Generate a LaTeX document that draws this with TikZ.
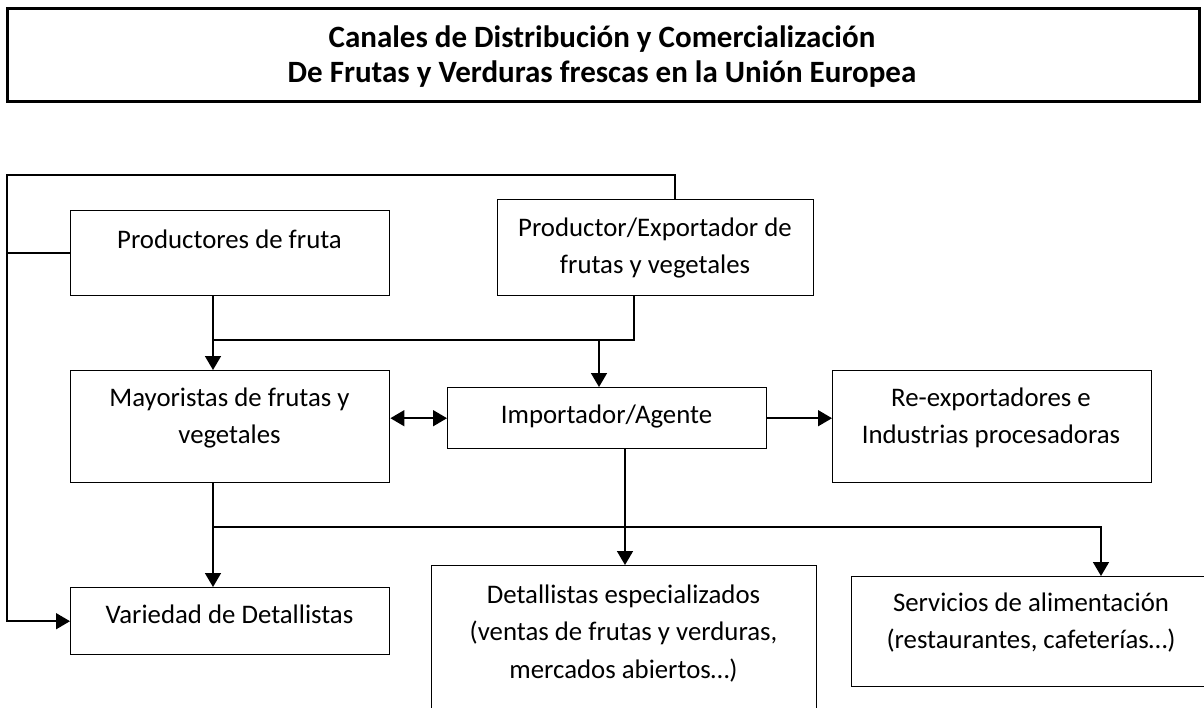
\documentclass[tikz,border=0pt]{standalone}
\usepackage{fontspec}
\setmainfont{Carlito}
\usetikzlibrary{arrows.meta}
\newcommand{\twol}[1]{\begin{tabular}[t]{@{}c@{}}#1\end{tabular}}
\begin{document}
\begin{tikzpicture}[x=1pt,y=-1pt,
  boxnode/.style={draw, line width=1.4pt, inner sep=0pt, anchor=north west},
  txt/.style={anchor=base, inner sep=0pt, font=\fontsize{26.8}{37.5}\selectfont},
  ttl/.style={anchor=base, inner sep=0pt, font=\fontsize{31}{35}\selectfont\bfseries},
  conn/.style={line width=1.6pt},
  arr/.style={conn, -{Triangle[length=14pt,width=16pt]}},
  arrb/.style={conn, {Triangle[length=14pt,width=16pt]}-{Triangle[length=14pt,width=16pt]}}]
\useasboundingbox (0,0) rectangle (1204,707);
\clip (0,0) rectangle (1204,707);
\fill[white] (0,0) rectangle (1204,707);

% title
\node[draw, line width=2.6pt, inner sep=0pt, anchor=north west, minimum width=1192pt, minimum height=93pt] (tbox) at (6,7) {};
\node[ttl] (t1) at (602,47) {Canales de Distribución y Comercialización};
\node[ttl] (t2) at (602,82) {De Frutas y Verduras frescas en la Unión Europea};

% boxes
\node[boxnode, minimum width=319pt, minimum height=85pt] (prod) at (70,210) {};
\node[boxnode, minimum width=316pt, minimum height=96pt] (pexp) at (497,199) {};
\node[boxnode, minimum width=319pt, minimum height=112pt] (may) at (70,370) {};
\node[boxnode, minimum width=319pt, minimum height=61pt] (imp) at (447,387) {};
\node[boxnode, minimum width=319pt, minimum height=112pt] (reexp) at (832,370) {};
\node[boxnode, minimum width=319pt, minimum height=67pt] (var) at (70,587) {};
\node[boxnode, minimum width=385pt, minimum height=160pt] (det) at (431,565) {};
\node[boxnode, minimum width=360pt, minimum height=110pt] (serv) at (851,576) {};

% texts
\node[txt] (prodt) at (229.5,248) {Productores de fruta};
\node[txt] (pexpt) at (655,236) {\twol{Productor/Exportador de\\frutas y vegetales}};
\node[txt] (mayt) at (229.5,406) {\twol{Mayoristas de frutas y\\vegetales}};
\node[txt] (impt) at (606.5,423) {Importador/Agente};
\node[txt] (reexpt) at (991,406) {\twol{Re-exportadores e\\Industrias procesadoras}};
\node[txt] (vart) at (229.5,623) {Variedad de Detallistas};
\node[txt] (dett) at (623.5,603) {\twol{Detallistas especializados\\(ventas de frutas y verduras,\\mercados abiertos…)}};
\node[txt] (servt) at (1031,611) {\twol{Servicios de alimentación\\(restaurantes, cafeterías…)}};

% coordinates for routing
\coordinate (ctop) at (675,175);
\coordinate (cleft) at (7,175);
\coordinate (j1) at (213,340);
\coordinate (j2) at (634,340);
\coordinate (j3) at (599,340);
\coordinate (k1) at (213,527);
\coordinate (k2) at (1101,527);
\coordinate (k3) at (625,527);

% connectors
\draw[arr] (pexp.north -| ctop) -- (ctop) -- (cleft) |- (var.west);
\draw[conn] (prod.west) -- (prod.west -| cleft);
\draw[arr] (prod.south -| j1) -- (may.north -| j1);
\draw[conn] (pexp.south -| j2) -- (j2) -- (j1);
\draw[arr] (j3) -- (imp.north -| j3);
\draw[arrb] (imp.west -| may.east) -- (imp.west);
\draw[arr] (imp.east) -- (imp.east -| reexp.west);
\draw[arr] (may.south -| k1) -- (var.north -| k1);
\draw[arr] (k1) -- (k2) -- (serv.north -| k2);
\draw[arr] (imp.south -| k3) -- (det.north -| k3);
\end{tikzpicture}
\end{document}
